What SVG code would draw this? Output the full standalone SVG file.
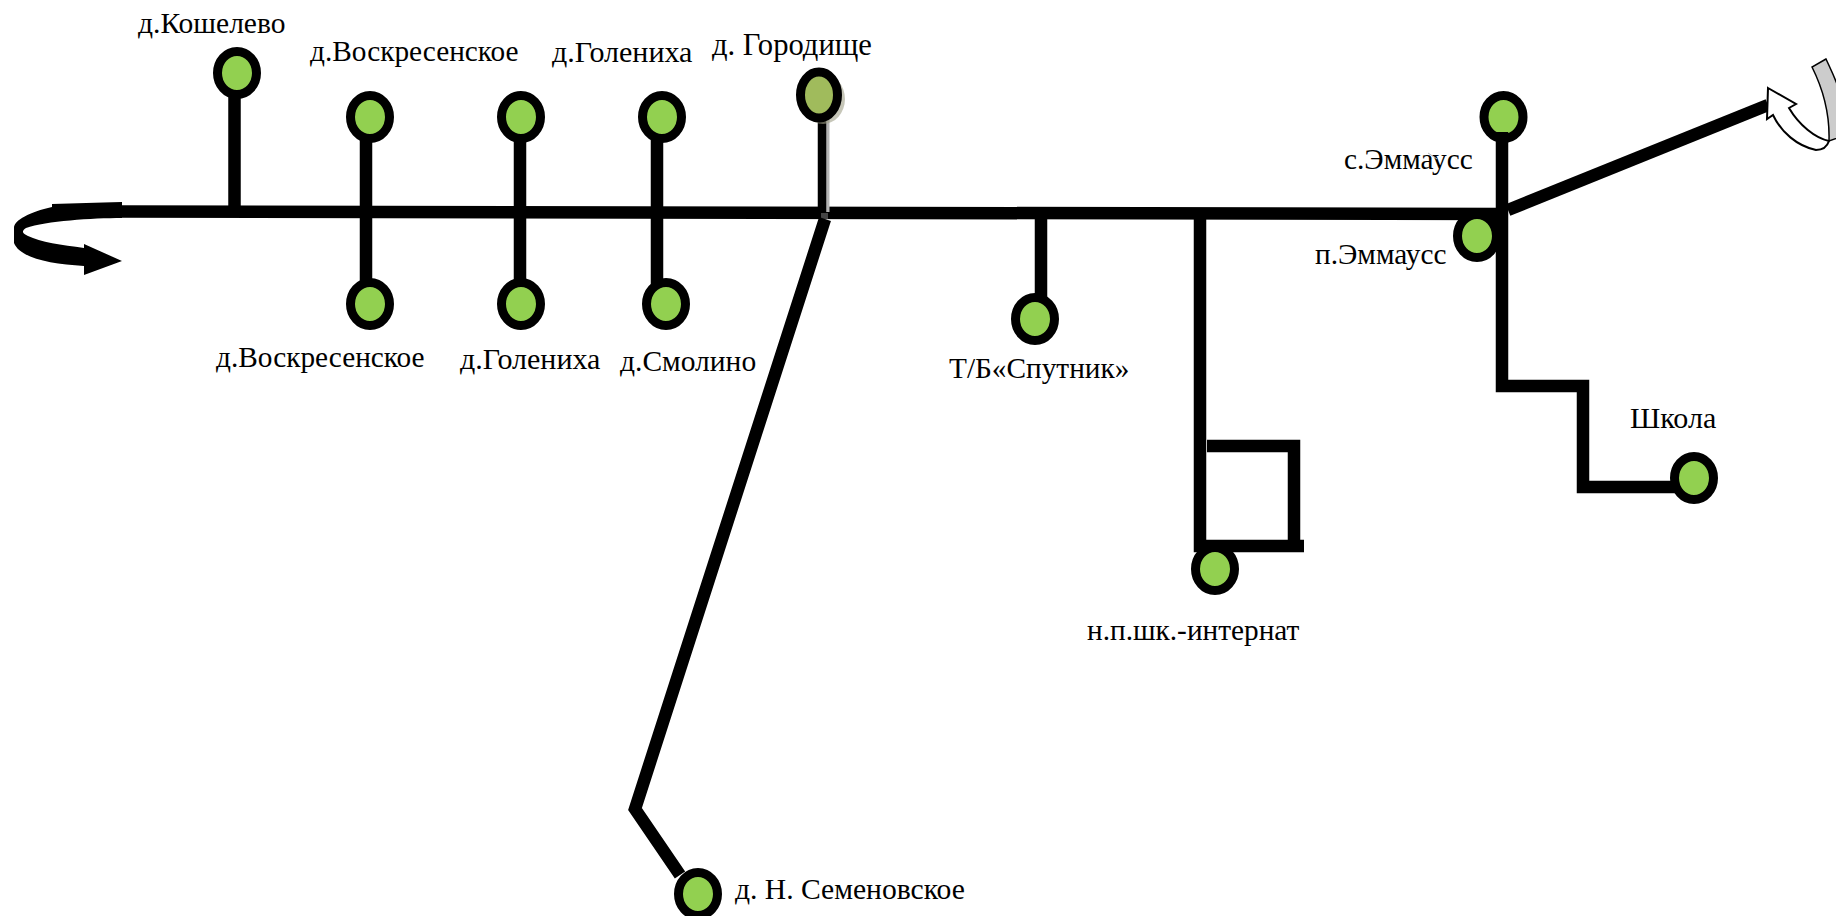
<svg xmlns="http://www.w3.org/2000/svg" width="1836" height="916" viewBox="0 0 1836 916">
<style>
.l{fill:none;stroke:#000;stroke-width:12.500}
.n{fill:#92d050;stroke:#000;stroke-width:9}
text{font-family:"Liberation Serif","Times New Roman",serif;font-size:29.300px;fill:#000}
.b{font-size:30px}
</style>
<rect width="1836" height="916" fill="#fff"/>
<g id="node-s-emmaus"><ellipse class="n" cx="1503.500" cy="117" rx="19.500" ry="21.500"/><text x="1344" y="169">с.Эммаусс</text></g>
<g id="connectors">
<path class="l" d="M120 211.500L1500 214"/>
<path class="l" d="M234.500 85V211"/>
<path class="l" d="M366 130V295"/>
<path class="l" d="M520 130V295"/>
<path class="l" d="M657 130V295"/>
<path d="M827.500 118V212" fill="none" stroke="#b3b3b3" stroke-width="4"/>
<path d="M822 100V214" fill="none" stroke="#000" stroke-width="8.500"/>
<path d="M821 213h7v6h-7z" fill="#444"/>
<path class="l" d="M825 219L635 809L680 875"/>
<path class="l" d="M1041 214V300"/>
<path class="l" d="M1200 214V546H1304"/>
<path class="l" d="M1207 446H1294V546"/>
<path class="l" d="M1502 132V386H1583V487H1680"/>
<path class="l" d="M1508 210L1768 105"/>
<path d="M1437 159L1428 153" fill="none" stroke="#bbb" stroke-width="1"/>
</g>
<g id="arrow-left">
<path d="M52 207L52 204C76 203 96 203 122 202V218C92 218 46 221 26 228C20 232 24 234 28 236C40 242 62 245 84 248V244L122 261L84 275V266C50 264 20 258 14 243V228C14 220 30 212 52 207Z" fill="#000"/>
</g>
<g id="arrow-right">
<path d="M1826 59L1812 67C1820 83 1830 110 1829 141L1840 137V92C1836 80 1831 70 1826 59Z" fill="#ccc" stroke="#000" stroke-width="1.500"/>
<path d="M1768 88L1796 104L1789 108C1799 125 1815 138 1829 141C1827 147 1822 150 1816 150C1797 146 1781 132 1773 115L1767 119Z" fill="#fff" stroke="#000" stroke-width="2"/>
</g>
<g id="node-koshelevo"><ellipse class="n" cx="237" cy="73" rx="19.500" ry="21.500"/><text x="138" y="33" style="font-size:29.500px">д.Кошелево</text></g>
<g id="node-voskr-top"><ellipse class="n" cx="370" cy="117" rx="19.500" ry="21.500"/><text x="310" y="61">д.Воскресенское</text></g>
<g id="node-golen-top"><ellipse class="n" cx="521" cy="117" rx="19.500" ry="21.500"/><text class="b" x="552" y="62">д.Голениха</text></g>
<g id="node-golen-2"><ellipse class="n" cx="662" cy="117" rx="19.500" ry="21.500"/></g>
<g id="node-gorodishche"><ellipse cx="823" cy="99" rx="22" ry="25" fill="#a0a088" opacity=".6"/><ellipse cx="819" cy="95" rx="18.500" ry="23" fill="#a0bb5c" stroke="#000" stroke-width="9"/><text x="712" y="55" style="font-size:30.600px">д. Городище</text></g>
<g id="node-voskr-bot"><ellipse class="n" cx="370" cy="304" rx="19.500" ry="21.500"/><text x="216" y="367">д.Воскресенское</text></g>
<g id="node-golen-bot"><ellipse class="n" cx="521" cy="304" rx="19.500" ry="21.500"/><text class="b" x="460" y="369">д.Голениха</text></g>
<g id="node-smolino"><ellipse class="n" cx="666" cy="304" rx="19.500" ry="21.500"/><text x="620" y="371" style="font-size:29.500px">д.Смолино</text></g>
<g id="node-sputnik"><ellipse class="n" cx="1035" cy="319" rx="19.500" ry="21.500"/><text x="949" y="378">Т/Б«Спутник»</text></g>
<g id="node-internat"><ellipse class="n" cx="1215" cy="569" rx="19.500" ry="21.500"/><text x="1087" y="640">н.п.шк.-интернат</text></g>
<g id="node-shkola"><ellipse class="n" cx="1694" cy="478" rx="19.500" ry="21.500"/><text class="b" x="1630" y="428">Школа</text></g>
<g id="node-p-emmaus"><ellipse class="n" cx="1477" cy="236" rx="19.500" ry="21.500"/><text x="1315" y="264">п.Эммаусс</text></g>
<g id="node-n-semen"><ellipse class="n" cx="698" cy="894" rx="19.500" ry="21.500"/><text x="735" y="899" style="font-size:29.600px">д. Н. Семеновское</text></g>
</svg>
